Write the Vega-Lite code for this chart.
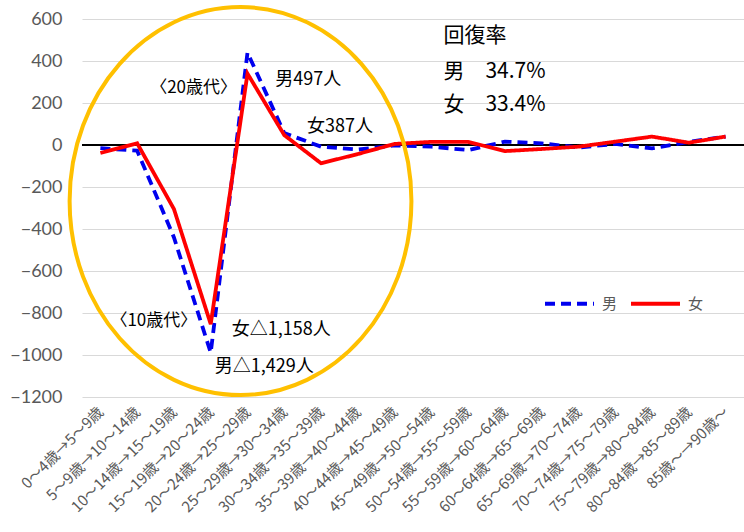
{
  "$schema": "https://vega.github.io/schema/vega-lite/v6.json",
  "width": 662,
  "height": 378,
  "autosize": {"type": "none"},
  "padding": {"left": 82, "top": 19, "right": 0, "bottom": 135},
  "background": "white",
  "config": {"view": {"stroke": null}, "font": "Noto Sans CJK JP"},
  "datasets": {
    "series": [
      {"age": "0～4歳→5～9歳", "sex": "男", "value": -15},
      {"age": "5～9歳→10～14歳", "sex": "男", "value": -27},
      {"age": "10～14歳→15～19歳", "sex": "男", "value": -440},
      {"age": "15～19歳→20～24歳", "sex": "男", "value": -989},
      {"age": "20～24歳→25～29歳", "sex": "男", "value": 440},
      {"age": "25～29歳→30～34歳", "sex": "男", "value": 57},
      {"age": "30～34歳→35～39歳", "sex": "男", "value": -8},
      {"age": "35～39歳→40～44歳", "sex": "男", "value": -22},
      {"age": "40～44歳→45～49歳", "sex": "男", "value": -2},
      {"age": "45～49歳→50～54歳", "sex": "男", "value": -8},
      {"age": "50～54歳→55～59歳", "sex": "男", "value": -24},
      {"age": "55～59歳→60～64歳", "sex": "男", "value": 16},
      {"age": "60～64歳→65～69歳", "sex": "男", "value": 8},
      {"age": "65～69歳→70～74歳", "sex": "男", "value": -12},
      {"age": "70～74歳→75～79歳", "sex": "男", "value": 5},
      {"age": "75～79歳→80～84歳", "sex": "男", "value": -16},
      {"age": "80～84歳→85～89歳", "sex": "男", "value": 15},
      {"age": "85歳～→90歳～", "sex": "男", "value": 40},
      {"age": "0～4歳→5～9歳", "sex": "女", "value": -38},
      {"age": "5～9歳→10～14歳", "sex": "女", "value": 8},
      {"age": "10～14歳→15～19歳", "sex": "女", "value": -305},
      {"age": "15～19歳→20～24歳", "sex": "女", "value": -853},
      {"age": "20～24歳→25～29歳", "sex": "女", "value": 340},
      {"age": "25～29歳→30～34歳", "sex": "女", "value": 47},
      {"age": "30～34歳→35～39歳", "sex": "女", "value": -87},
      {"age": "35～39歳→40～44歳", "sex": "女", "value": -43},
      {"age": "40～44歳→45～49歳", "sex": "女", "value": 5},
      {"age": "45～49歳→50～54歳", "sex": "女", "value": 15},
      {"age": "50～54歳→55～59歳", "sex": "女", "value": 15},
      {"age": "55～59歳→60～64歳", "sex": "女", "value": -29},
      {"age": "60～64歳→65～69歳", "sex": "女", "value": -19},
      {"age": "65～69歳→70～74歳", "sex": "女", "value": -8},
      {"age": "70～74歳→75～79歳", "sex": "女", "value": 16},
      {"age": "75～79歳→80～84歳", "sex": "女", "value": 40},
      {"age": "80～84歳→85～89歳", "sex": "女", "value": 11},
      {"age": "85歳～→90歳～", "sex": "女", "value": 40}
    ]
  },
  "encoding": {
    "x": {
      "field": "age", "type": "ordinal",
      "scale": {"domain": ["0～4歳→5～9歳","5～9歳→10～14歳","10～14歳→15～19歳","15～19歳→20～24歳","20～24歳→25～29歳","25～29歳→30～34歳","30～34歳→35～39歳","35～39歳→40～44歳","40～44歳→45～49歳","45～49歳→50～54歳","50～54歳→55～59歳","55～59歳→60～64歳","60～64歳→65～69歳","65～69歳→70～74歳","70～74歳→75～79歳","75～79歳→80～84歳","80～84歳→85～89歳","85歳～→90歳～"]},
      "axis": {"title": null, "labelAngle": -45, "labelAlign": "right", "labelBaseline": "middle", "domain": false, "ticks": false, "grid": false, "labelFont": "Noto Sans CJK JP", "labelFontSize": 15, "labelColor": "#595959", "labelPadding": 12, "labelOverlap": false, "labelLimit": 0}
    },
    "y": {
      "field": "value", "type": "quantitative",
      "scale": {"domain": [-1200, 600], "nice": false},
      "axis": {"title": null, "values": [-1200,-1000,-800,-600,-400,-200,0,200,400,600], "format": "d", "grid": true, "gridColor": "#D9D9D9", "gridWidth": 1, "domain": false, "ticks": false, "labelFont": "Lato", "labelFontSize": 18, "labelColor": "#595959", "labelPadding": 20}
    }
  },
  "layer": [
    {
      "data": {"name": "series"},
      "mark": {"type": "rule", "color": "black", "strokeWidth": 2},
      "encoding": {"y": {"datum": 0}, "x": null}
    },
    {
      "data": {"name": "series"},
      "mark": {"type": "line", "strokeWidth": 3.8},
      "encoding": {
        "color": {"field": "sex", "type": "nominal", "scale": {"domain": ["男", "女"], "range": ["#0000EE", "#FF0000"]},
          "legend": {"orient": "none", "legendX": 461, "legendY": 258, "direction": "horizontal", "title": null, "symbolType": "stroke", "symbolSize": 2401, "symbolStrokeWidth": 4, "labelFontSize": 15, "labelColor": "#595959", "labelFont": "Noto Sans CJK JP", "columnPadding": 5, "labelOffset": 6, "padding": 0}},
        "strokeDash": {"field": "sex", "type": "nominal", "scale": {"domain": ["男", "女"], "range": [[10, 6], [1, 0]]}}
      }
    },
    {
      "data": {"values": [{"age": "20～24歳→25～29歳", "value": -267}]},
      "mark": {"type": "point", "shape": "M 0.845,0 C 0.845,0.5523 0.4506,1 -0.036,1 C -0.5226,1 -0.917,0.5523 -0.917,0 C -0.917,-0.5523 -0.5226,-1 -0.036,-1 C 0.4506,-1 0.845,-0.5523 0.845,0 Z", "size": 150544, "filled": false, "stroke": "#FFC000", "strokeWidth": 4, "opacity": 1}
    },
    {
      "data": {"values": [
        {"age": "45～49歳→50～54歳", "value": 519, "label": "回復率"},
        {"age": "45～49歳→50～54歳", "value": 348, "label": "男　34.7%"},
        {"age": "45～49歳→50～54歳", "value": 190, "label": "女　33.4%"}
      ]},
      "mark": {"type": "text", "align": "left", "baseline": "middle", "dx": 12, "fontSize": 21, "font": "Noto Sans CJK JP", "color": "black"},
      "encoding": {"text": {"field": "label"}}
    },
    {
      "data": {"values": [{"age": "5～9歳→10～14歳", "value": 271, "label": "〈20歳代〉"}]},
      "mark": {"type": "text", "align": "left", "baseline": "middle", "dx": 13, "fontSize": 17, "font": "Noto Sans CJK JP", "color": "black"},
      "encoding": {"text": {"field": "label"}}
    },
    {
      "data": {"values": [{"age": "25～29歳→30～34歳", "value": 310, "label": "男497人"}]},
      "mark": {"type": "text", "align": "left", "baseline": "middle", "dx": -9, "fontSize": 18, "font": "Noto Sans CJK JP", "color": "black"},
      "encoding": {"text": {"field": "label"}}
    },
    {
      "data": {"values": [{"age": "30～34歳→35～39歳", "value": 86, "label": "女387人"}]},
      "mark": {"type": "text", "align": "left", "baseline": "middle", "dx": -14, "fontSize": 18, "font": "Noto Sans CJK JP", "color": "black"},
      "encoding": {"text": {"field": "label"}}
    },
    {
      "data": {"values": [{"age": "0～4歳→5～9歳", "value": -838, "label": "〈10歳代〉"}]},
      "mark": {"type": "text", "align": "left", "baseline": "middle", "dx": 10, "fontSize": 17, "font": "Noto Sans CJK JP", "color": "black"},
      "encoding": {"text": {"field": "label"}}
    },
    {
      "data": {"values": [{"age": "15～19歳→20～24歳", "value": -880, "label": "女△1,158人"}]},
      "mark": {"type": "text", "align": "left", "baseline": "middle", "dx": 21, "fontSize": 18, "font": "Noto Sans CJK JP", "color": "black"},
      "encoding": {"text": {"field": "label"}}
    },
    {
      "data": {"values": [{"age": "15～19歳→20～24歳", "value": -1058, "label": "男△1,429人"}]},
      "mark": {"type": "text", "align": "left", "baseline": "middle", "dx": 4, "fontSize": 18, "font": "Noto Sans CJK JP", "color": "black"},
      "encoding": {"text": {"field": "label"}}
    }
  ]
}
